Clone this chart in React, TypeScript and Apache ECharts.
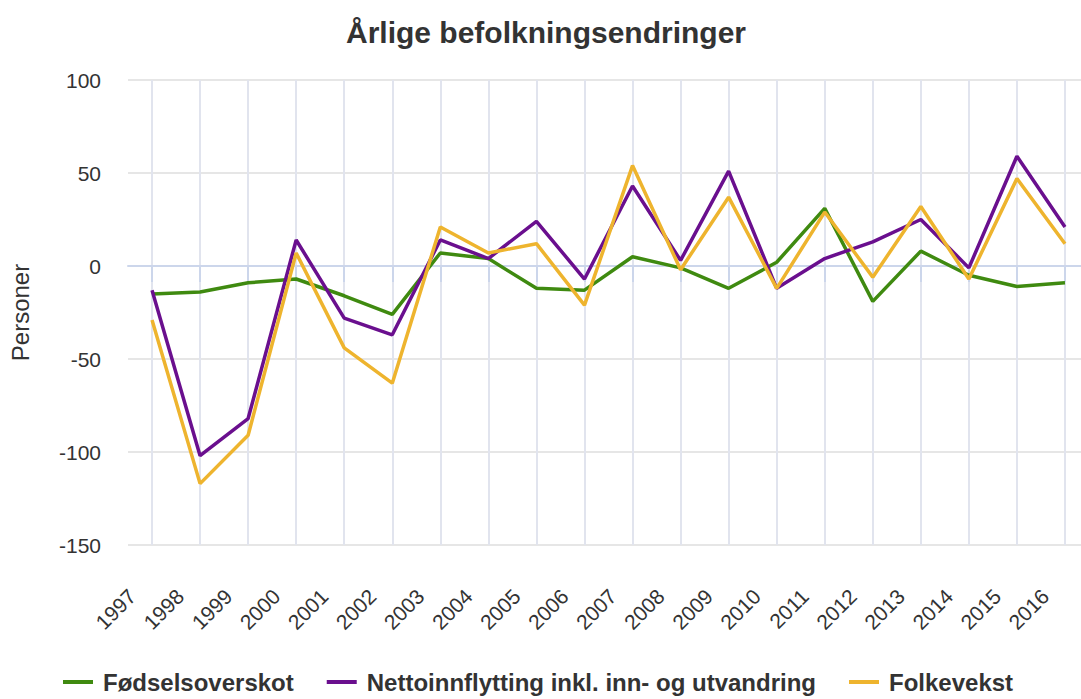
import React, { useEffect, useRef } from "react";
import * as echarts from "echarts";

const years = ["1997","1998","1999","2000","2001","2002","2003","2004","2005","2006","2007","2008","2009","2010","2011","2012","2013","2014","2015","2016"];
const fodselsoverskot = [-15,-14,-9,-7,-16,-26,7,4,-12,-13,5,-1,-12,2,31,-19,8,-5,-11,-9];
const nettoinnflytting = [-13,-102,-82,14,-28,-37,14,4,24,-7,43,3,51,-12,4,13,25,-1,59,21];
const folkevekst = [-29,-117,-91,7,-44,-63,21,7,12,-21,54,-2,37,-12,29,-6,32,-7,47,12];
const yTicks = { min: -150, max: 100, interval: 50 };

const FONT = "'Liberation Sans', Arial, sans-serif";

export default function App() {
  const ref = useRef<HTMLDivElement>(null);
  useEffect(() => {
    if (!ref.current) return;
    document.documentElement.style.overflow = "hidden";
    document.body.style.overflow = "hidden";
    const chart = echarts.init(ref.current, null, { renderer: "svg" });
    const mk = (name: string, data: number[], color: string) => ({
      name, type: "line", data, symbol: "none",
      lineStyle: { color, width: 3.5 }, itemStyle: { color },
    });
    chart.setOption({
      animation: false,
      backgroundColor: "#ffffff",
      title: {
        text: "Årlige befolkningsendringer",
        left: 541, top: 12, textAlign: "center",
        textStyle: { fontFamily: FONT, fontSize: 30, fontWeight: "bold", color: "#333333" },
      },
      grid: { left: 127, right: 0, top: 80, bottom: 154, containLabel: false },
      legend: {
        top: 670, left: 63, padding: 0, icon: "rect", itemWidth: 30, itemHeight: 4, itemGap: 33,
        textStyle: { fontFamily: FONT, fontSize: 24, fontWeight: "bold", color: "#333333", padding: [0, 0, 0, 5] },
        data: ["Fødselsoverskot", "Nettoinnflytting inkl. inn- og utvandring", "Folkevekst"],
      },
      xAxis: {
        type: "category", data: years, boundaryGap: true,
        axisLine: { show: true, lineStyle: { color: "#ccd6eb", width: 2 } },
        axisTick: { show: true, alignWithLabel: true, length: 16, lineStyle: { color: "#ccd6eb", width: 2 } },
        splitLine: { show: true, alignWithLabel: true, lineStyle: { color: "#e1e4ee", width: 2 } },
        axisLabel: { rotate: 45, fontFamily: FONT, fontSize: 21, color: "#333333", margin: 28, interval: 0, padding: [0, 28, 0, 0] },
      },
      yAxis: {
        type: "value", ...yTicks,
        name: "Personer", nameLocation: "middle", nameGap: 96, nameRotate: 90,
        nameTextStyle: { fontFamily: FONT, fontSize: 24, color: "#333333" },
        axisLine: { show: false }, axisTick: { show: false },
        splitLine: { lineStyle: { color: "#e6e6e6", width: 2 } },
        axisLabel: { fontFamily: FONT, fontSize: 21, color: "#333333", margin: 27 },
      },
      series: [
        mk("Fødselsoverskot", fodselsoverskot, "#3f8a10"),
        mk("Nettoinnflytting inkl. inn- og utvandring", nettoinnflytting, "#6a0f8e"),
        mk("Folkevekst", folkevekst, "#eeb42e"),
      ],
    });
    return () => chart.dispose();
  }, []);
  return <div ref={ref} style={{ width: 1089, height: 699, position: "absolute", left: 0, top: 0 }} />;
}
